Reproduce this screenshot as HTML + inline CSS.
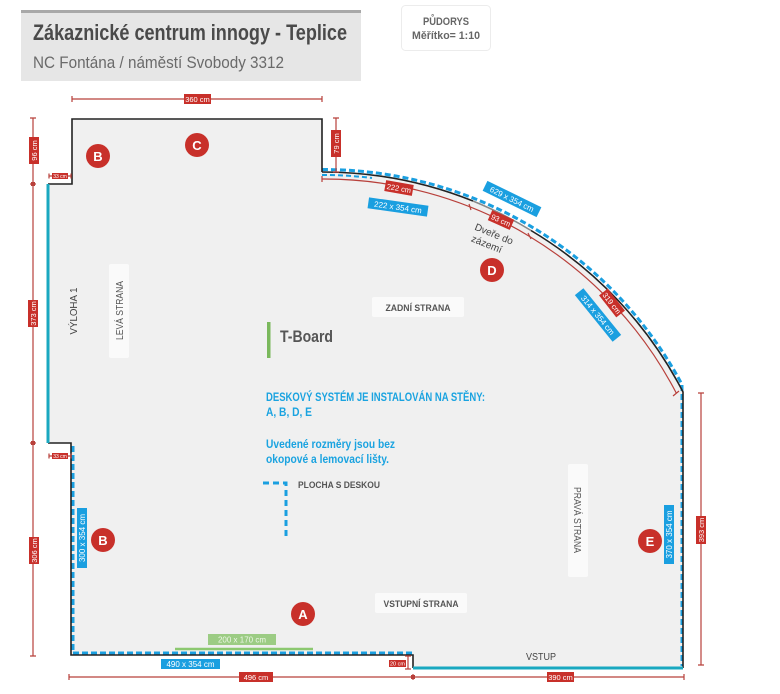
<!DOCTYPE html>
<html><head><meta charset="utf-8"><style>
html,body{margin:0;padding:0;background:#fff;}
svg{display:block;}
text{font-family:"Liberation Sans","DejaVu Sans",sans-serif;}
</style></head><body>
<svg width="780" height="694" viewBox="0 0 780 694" xmlns="http://www.w3.org/2000/svg">
<rect width="780" height="694" fill="#fff"/>
<!-- title box -->
<rect x="21" y="11" width="340" height="70" fill="#e6e6e6"/>
<rect x="21" y="10" width="340" height="3" fill="#a8a8a8"/>
<text x="33" y="40" font-size="22" font-weight="bold" fill="#4a4a4a" textLength="314" lengthAdjust="spacingAndGlyphs">Zákaznické centrum innogy - Teplice</text>
<text x="33" y="68" font-size="17" fill="#6a6a6a" textLength="251" lengthAdjust="spacingAndGlyphs">NC Fontána / náměstí Svobody 3312</text>
<!-- pudorys -->
<rect x="401.5" y="5.5" width="89" height="45" rx="4" fill="#fff" stroke="#ececec"/>
<text x="446" y="25" font-size="11" font-weight="bold" fill="#666" text-anchor="middle" textLength="46" lengthAdjust="spacingAndGlyphs">PŮDORYS</text>
<text x="446" y="39" font-size="11" font-weight="bold" fill="#666" text-anchor="middle" textLength="68" lengthAdjust="spacingAndGlyphs">Měřítko= 1:10</text>

<!-- room fill -->
<path d="M72,119 L322,119 L322,172 A404,404 0 0 1 683,392 L683,668 L413,668 L413,655 L71,655 L71,443 L48,443 L48,184 L72,184 Z" fill="#f0f0f0"/>

<!-- blue dashed boards -->
<g fill="none" stroke="#1a9fe0" stroke-width="3" stroke-dasharray="6,3">
<path d="M73,446 L73,653 L413,653"/>
<path d="M322,169.5 A406.5,406.5 0 0 1 682,384.5 L682,666"/>
</g>
<path d="M322,175 A401,401 0 0 1 372,178" fill="none" stroke="#1a9fe0" stroke-width="2" stroke-dasharray="5,3"/>

<!-- black walls -->
<g fill="none" stroke="#222" stroke-width="1.6">
<path d="M48,184 L72,184 L72,119 L322,119 L322,172"/>
<path d="M322,172 A404,404 0 0 1 473,201"/>
<path d="M531,230.5 A404,404 0 0 1 683,392 L683,668"/>
<path d="M48,443 L71,443 L71,655 L413,655 L413,668"/>
</g>
<path d="M473,201 A404,404 0 0 1 531,230.5" fill="none" stroke="#888" stroke-width="1.6"/>
<!-- teal -->
<path d="M48,184 L48,443" stroke="#1aa8c0" stroke-width="3"/>
<path d="M413,668 L683,668" stroke="#1aa8c0" stroke-width="3"/>

<!-- red dimension lines -->
<g fill="none" stroke="#b8403b" stroke-width="1.2">
<path d="M72,99 L322,99 M72,96 L72,102 M322,96 L322,102"/>
<path d="M33,118 L33,184 M30,118 L36,118"/>
<path d="M336,118 L336,172 M333,118 L339,118 M333,172 L339,172"/>
<path d="M49,176 L71,176 M49,173.5 L49,178.5 M71,173.5 L71,178.5"/>
<path d="M33,184 L33,443 M30,184 L36,184"/>
<path d="M49,456 L71,456 M49,453.5 L49,458.5 M71,453.5 L71,458.5"/>
<path d="M33,443 L33,656 M30,443 L36,443 M30,656 L36,656"/>
<path d="M69,677 L684,677 M69,674 L69,680 M413,674 L413,680 M684,674 L684,680"/>
<path d="M701,393 L701,665 M698,393 L704,393 M698,665 L704,665"/>
<path d="M408,656 L408,669 M405,656 L411,656 M405,669 L411,669"/>
<path d="M322,179 A397,397 0 0 1 676.5,393.5"/>
<path d="M322,176 L322,182 M469,204 L471,210 M528,233 L531,239 M673,396 L679,391"/>
</g>
<g fill="#b8403b"><rect x="31" y="182" width="4" height="4"/><rect x="31" y="441" width="4" height="4"/><rect x="411" y="675" width="4" height="4"/></g>

<!-- red labels -->
<g font-size="7.5" fill="#fff" text-anchor="middle">
<rect x="184" y="94" width="27" height="10" fill="#c8302a"/><text x="197.5" y="101.8">360 cm</text>
<g transform="translate(34,150.5) rotate(-90)"><rect x="-13.5" y="-5" width="27" height="10" fill="#c8302a"/><text x="0" y="2.8">96 cm</text></g>
<g transform="translate(336,143.5) rotate(-90)"><rect x="-13.5" y="-5" width="27" height="10" fill="#c8302a"/><text x="0" y="2.8">79 cm</text></g>
<rect x="52" y="173" width="16" height="6" fill="#c8302a"/><text x="60" y="178" font-size="5">33 cm</text>
<g transform="translate(33,313.5) rotate(-90)"><rect x="-13.5" y="-5" width="27" height="10" fill="#c8302a"/><text x="0" y="2.8">373 cm</text></g>
<rect x="52" y="453" width="16" height="6" fill="#c8302a"/><text x="60" y="458" font-size="5">33 cm</text>
<g transform="translate(34,550.5) rotate(-90)"><rect x="-13.5" y="-5" width="27" height="10" fill="#c8302a"/><text x="0" y="2.8">306 cm</text></g>
<rect x="239" y="672" width="34" height="10" fill="#c8302a"/><text x="256" y="679.8">496 cm</text>
<rect x="547" y="672" width="27" height="10" fill="#c8302a"/><text x="560.5" y="679.8">390 cm</text>
<g transform="translate(701,530) rotate(-90)"><rect x="-14" y="-5" width="28" height="10" fill="#c8302a"/><text x="0" y="2.8">393 cm</text></g>
<rect x="389" y="660" width="17" height="7" fill="#c8302a"/><text x="397.5" y="665.5" font-size="5.5">20 cm</text>
<g transform="translate(399,188) rotate(10)"><rect x="-14" y="-5.5" width="28" height="11" fill="#c8302a"/><text x="0" y="3">222 cm</text></g>
<g transform="translate(501,220) rotate(24)"><rect x="-12" y="-5.5" width="24" height="11" fill="#c8302a"/><text x="0" y="3">93 cm</text></g>
<g transform="translate(612,303) rotate(52)"><rect x="-14" y="-5.5" width="28" height="11" fill="#c8302a"/><text x="0" y="3">319 cm</text></g>
</g>

<!-- blue labels -->
<g font-size="8" fill="#fff" text-anchor="middle">
<g transform="translate(398,207) rotate(8)"><rect x="-30" y="-5.5" width="60" height="11" fill="#1a9fe0"/><text x="0" y="3">222 x 354 cm</text></g>
<g transform="translate(512,199) rotate(26)"><rect x="-30" y="-5.5" width="60" height="11" fill="#1a9fe0"/><text x="0" y="3">629 x 354 cm</text></g>
<g transform="translate(598,315) rotate(51)"><rect x="-30" y="-5.5" width="60" height="11" fill="#1a9fe0"/><text x="0" y="3">314 x 354 cm</text></g>
<g transform="translate(82,538) rotate(-90)"><rect x="-30" y="-5" width="60" height="10" fill="#1a9fe0"/><text x="0" y="3">300 x 354 cm</text></g>
<rect x="161" y="659" width="59" height="10" fill="#1a9fe0"/><text x="190.5" y="667">490 x 354 cm</text>
<g transform="translate(669,534.5) rotate(-90)"><rect x="-29.5" y="-5" width="59" height="10" fill="#1a9fe0"/><text x="0" y="3">370 x 354 cm</text></g>
<rect x="208" y="634" width="68" height="11" fill="#9ccc84"/><text x="242" y="642.5" fill="#eef7e8">200 x 170 cm</text>
</g>
<path d="M175,649 L313,649" stroke="#8cc870" stroke-width="2.5"/>

<!-- side boxes -->
<rect x="109" y="264" width="20" height="94" rx="2" fill="#fafafa"/>
<text transform="translate(123,310.5) rotate(-90)" font-size="10" fill="#555" text-anchor="middle" textLength="59" lengthAdjust="spacingAndGlyphs">LEVÁ STRANA</text>
<text transform="translate(77,311) rotate(-90)" font-size="10" fill="#444" text-anchor="middle" textLength="47" lengthAdjust="spacingAndGlyphs">VÝLOHA 1</text>
<rect x="568" y="464" width="20" height="113" rx="2" fill="#fafafa"/>
<text transform="translate(574,520) rotate(90)" font-size="10" fill="#555" text-anchor="middle" textLength="66" lengthAdjust="spacingAndGlyphs">PRAVÁ STRANA</text>
<rect x="372" y="297" width="92" height="20" rx="2" fill="#fafafa"/>
<text x="418" y="311" font-size="9.5" font-weight="bold" fill="#555" text-anchor="middle" textLength="65" lengthAdjust="spacingAndGlyphs">ZADNÍ STRANA</text>
<rect x="375" y="593" width="92" height="20" rx="2" fill="#fafafa"/>
<text x="421" y="607" font-size="9.5" font-weight="bold" fill="#555" text-anchor="middle" textLength="75" lengthAdjust="spacingAndGlyphs">VSTUPNÍ STRANA</text>
<text x="541" y="660" font-size="10" fill="#444" text-anchor="middle" textLength="30" lengthAdjust="spacingAndGlyphs">VSTUP</text>

<!-- T-Board -->
<rect x="267" y="322" width="3.5" height="36" fill="#7ab85c"/>
<text x="280" y="342" font-size="17" font-weight="bold" fill="#555" textLength="53" lengthAdjust="spacingAndGlyphs">T-Board</text>

<!-- blue notes -->
<g font-size="12" font-weight="bold" fill="#1aa3e0">
<text x="266" y="401" textLength="219" lengthAdjust="spacingAndGlyphs">DESKOVÝ SYSTÉM JE INSTALOVÁN NA STĚNY:</text>
<text x="266" y="416" textLength="46" lengthAdjust="spacingAndGlyphs">A, B, D, E</text>
<text x="266" y="448" textLength="129" lengthAdjust="spacingAndGlyphs">Uvedené rozměry jsou bez</text>
<text x="266" y="463" textLength="123" lengthAdjust="spacingAndGlyphs">okopové a lemovací lišty.</text>
</g>
<path d="M263,483 L286,483 L286,536" fill="none" stroke="#1a9fe0" stroke-width="3" stroke-dasharray="6,4"/>
<text x="298" y="488" font-size="9.5" font-weight="bold" fill="#555" textLength="82" lengthAdjust="spacingAndGlyphs">PLOCHA S DESKOU</text>

<!-- door text -->
<g transform="translate(492,239) rotate(22)" font-size="10" fill="#444" text-anchor="middle">
<text x="0" y="-2">Dveře do</text>
<text x="-3" y="10">zázemí</text>
</g>

<!-- circles -->
<g fill="#c8302a">
<circle cx="98" cy="156" r="12"/><circle cx="197" cy="145" r="12"/><circle cx="492" cy="270" r="12"/>
<circle cx="103" cy="540" r="12"/><circle cx="303" cy="614" r="12"/><circle cx="650" cy="541" r="12"/>
</g>
<g font-size="13" font-weight="bold" fill="#fff" text-anchor="middle">
<text x="98" y="161">B</text><text x="197" y="150">C</text><text x="492" y="275">D</text>
<text x="103" y="545">B</text><text x="303" y="619">A</text><text x="650" y="546">E</text>
</g>
</svg>
</body></html>
